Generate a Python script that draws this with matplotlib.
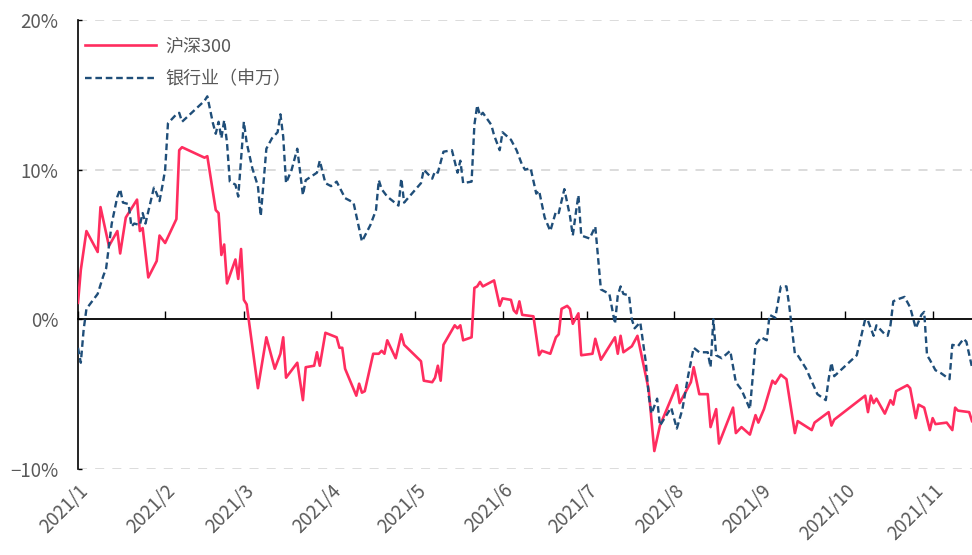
import matplotlib
matplotlib.use("Agg")
import matplotlib.pyplot as plt
import matplotlib.dates as mdates
import pandas as pd

plt.rcParams['font.family'] = ['Noto Sans CJK SC', 'DejaVu Sans']
plt.rcParams['axes.unicode_minus'] = True

# 沪深300 cumulative return (%)
hs300_dates = [
    "01-04", "01-05", "01-07", "01-11", "01-12", "01-15", "01-18", "01-19", "01-21", "01-25",
    "01-26", "01-27", "01-29", "02-01", "02-02", "02-04", "02-08", "02-09", "02-10", "02-18",
    "02-19", "02-22", "02-23", "02-24", "02-25", "02-26", "03-01", "03-02", "03-03", "03-04",
    "03-05", "03-09", "03-12", "03-15", "03-17", "03-18", "03-19", "03-23", "03-25", "03-26",
    "03-29", "03-30", "03-31", "04-02", "04-06", "04-07", "04-08", "04-09", "04-13", "04-14",
    "04-15", "04-16", "04-19", "04-21", "04-22", "04-23", "04-24", "04-27", "04-29", "04-30",
    "05-06", "05-07", "05-10", "05-11", "05-12", "05-13", "05-14", "05-18", "05-19", "05-20",
    "05-21", "05-24", "05-25", "05-26", "05-27", "05-28", "06-01", "06-03", "06-04", "06-07",
    "06-08", "06-09", "06-10", "06-11", "06-15", "06-17", "06-18", "06-21", "06-23", "06-24",
    "06-25", "06-27", "06-28", "06-29", "07-01", "07-02", "07-06", "07-07", "07-09", "07-14",
    "07-15", "07-16", "07-17", "07-20", "07-22", "07-26", "07-28", "07-30", "08-03", "08-05",
    "08-06", "08-10", "08-11", "08-13", "08-16", "08-17", "08-19", "08-20", "08-25", "08-26",
    "08-28", "08-31", "09-02", "09-03", "09-05", "09-08", "09-09", "09-11", "09-13", "09-16",
    "09-17", "09-22", "09-23", "09-28", "09-29", "09-30", "10-11", "10-12", "10-13", "10-14",
    "10-15", "10-18", "10-20", "10-21", "10-22", "10-26", "10-27", "10-29", "10-30", "11-01",
    "11-03", "11-04", "11-05", "11-09", "11-11", "11-12", "11-13", "11-17", "11-18",
]
hs300_values = [
    1.1, 3.3, 5.9, 4.5, 7.5, 4.9, 5.9, 4.4, 6.8, 8.0,
    5.9, 6.1, 2.8, 3.9, 5.6, 5.1, 6.7, 11.3, 11.5, 10.8,
    10.9, 7.3, 7.1, 4.3, 5.0, 2.4, 4.0, 2.7, 4.7, 1.3,
    1.0, -4.6, -1.2, -3.3, -2.3, -1.2, -3.9, -2.9, -5.4, -3.2,
    -3.1, -2.2, -3.1, -0.9, -1.2, -1.9, -1.9, -3.3, -5.1, -4.3,
    -4.9, -4.8, -2.3, -2.3, -2.1, -2.3, -1.4, -2.6, -1.0, -1.7,
    -2.8, -4.1, -4.2, -3.9, -3.1, -4.1, -1.7, -0.4, -0.6, -0.4,
    -1.4, -1.2, 2.1, 2.2, 2.5, 2.2, 2.6, 0.9, 1.4, 1.3,
    0.6, 0.4, 1.2, 0.3, 0.2, -2.4, -2.1, -2.3, -1.2, -1.0,
    0.7, 0.9, 0.7, -0.3, 0.4, -2.4, -2.3, -1.3, -2.7, -1.2,
    -2.3, -1.1, -2.2, -1.8, -1.1, -4.7, -8.8, -7.1, -5.3, -4.4,
    -5.6, -4.2, -3.2, -5.0, -5.0, -7.2, -6.0, -8.3, -5.9, -7.6,
    -7.2, -7.7, -6.4, -6.9, -6.0, -4.1, -4.3, -3.7, -4.0, -7.6,
    -6.8, -7.4, -6.9, -6.2, -7.1, -6.7, -5.1, -6.2, -5.1, -5.6,
    -5.3, -6.3, -5.4, -5.7, -4.8, -4.4, -4.6, -6.6, -5.7, -5.9,
    -7.4, -6.6, -7.0, -6.9, -7.4, -5.9, -6.1, -6.2, -6.8,
]

# 银行业（申万） cumulative return (%)
bank_dates = [
    "01-04", "01-05", "01-06", "01-07", "01-11", "01-13", "01-14", "01-16", "01-18", "01-19",
    "01-20", "01-22", "01-23", "01-24", "01-26", "01-27", "01-28", "01-31", "02-01", "02-02",
    "02-03", "02-04", "02-05", "02-08", "02-09", "02-10", "02-18", "02-19", "02-21", "02-22",
    "02-23", "02-24", "02-25", "02-26", "02-27", "03-01", "03-02", "03-04", "03-05", "03-07",
    "03-09", "03-10", "03-12", "03-14", "03-16", "03-17", "03-18", "03-19", "03-21", "03-23",
    "03-25", "03-26", "03-30", "03-31", "04-02", "04-04", "04-06", "04-09", "04-12", "04-15",
    "04-18", "04-20", "04-21", "04-22", "04-24", "04-28", "04-29", "04-30", "05-06", "05-07",
    "05-10", "05-11", "05-12", "05-14", "05-17", "05-19", "05-20", "05-21", "05-24", "05-25",
    "05-26", "05-27", "05-28", "05-31", "06-01", "06-03", "06-04", "06-07", "06-09", "06-11",
    "06-12", "06-14", "06-16", "06-17", "06-19", "06-21", "06-23", "06-24", "06-26", "06-28",
    "06-29", "06-30", "07-01", "07-02", "07-05", "07-07", "07-09", "07-12", "07-14", "07-15",
    "07-16", "07-17", "07-19", "07-20", "07-21", "07-23", "07-25", "07-26", "07-27", "07-29",
    "07-30", "08-03", "08-05", "08-07", "08-09", "08-11", "08-13", "08-16", "08-17", "08-18",
    "08-19", "08-21", "08-24", "08-26", "08-28", "08-31", "09-02", "09-04", "09-06", "09-07",
    "09-09", "09-11", "09-13", "09-14", "09-16", "09-17", "09-20", "09-24", "09-27", "09-28",
    "09-29", "09-30", "10-08", "10-11", "10-12", "10-14", "10-15", "10-18", "10-19", "10-20",
    "10-21", "10-22", "10-25", "10-27", "10-29", "10-31", "11-01", "11-02", "11-03", "11-05",
    "11-07", "11-10", "11-11", "11-13", "11-15", "11-16", "11-18",
]
bank_values = [
    -1.9, -2.9, -0.7, 0.7, 1.7, 2.9, 3.4, 6.4, 8.2, 8.7,
    7.8, 7.7, 6.2, 6.4, 6.3, 7.1, 6.4, 8.8, 8.4, 7.9,
    8.9, 10.0, 13.1, 13.7, 13.8, 13.2, 14.6, 14.9, 13.1, 12.4,
    13.2, 12.1, 13.3, 11.8, 9.2, 9.0, 8.2, 13.2, 11.8, 10.1,
    8.9, 6.9, 11.4, 12.1, 12.5, 13.7, 12.2, 9.1, 10.0, 11.4,
    8.3, 9.3, 9.8, 10.6, 9.1, 8.9, 9.2, 8.1, 7.8, 5.2,
    6.3, 7.3, 9.3, 8.7, 8.2, 7.6, 9.4, 7.8, 9.1, 10.0,
    9.4, 9.9, 9.8, 11.2, 11.3, 9.8, 10.6, 9.1, 9.2, 13.0,
    14.3, 13.6, 13.8, 13.0, 12.3, 11.3, 12.5, 12.0, 11.3, 10.3,
    10.0, 10.1, 8.4, 8.6, 6.8, 5.9, 7.2, 7.1, 8.7, 6.9,
    5.6, 7.0, 8.3, 5.6, 5.4, 6.2, 2.0, 1.7, -0.3, 1.6,
    2.2, 1.7, 1.6, 0.0, -0.6, -0.2, -2.9, -5.1, -6.3, -5.3,
    -7.1, -5.9, -7.3, -6.0, -3.8, -1.9, -2.2, -2.2, -3.2, 0.0,
    -2.4, -2.6, -2.1, -4.2, -4.7, -6.0, -1.7, -1.2, -1.4, 0.3,
    0.1, 2.2, 2.2, 0.9, -2.3, -2.4, -3.3, -5.0, -5.4, -4.0,
    -2.9, -3.8, -2.4, 0.0, -0.1, -1.1, -0.4, -1.0, -1.1, -0.4,
    1.2, 1.3, 1.5, 0.8, -0.6, 0.3, 0.5, -2.4, -2.7, -3.4,
    -3.6, -4.0, -1.7, -1.8, -1.3, -1.5, -3.2,
]

tick_dates = ["01-04", "02-04", "03-04", "04-04", "05-04", "06-04",
              "07-04", "08-04", "09-04", "10-04", "11-04"]
tick_labels = ["2021/1", "2021/2", "2021/3", "2021/4", "2021/5", "2021/6",
               "2021/7", "2021/8", "2021/9", "2021/10", "2021/11"]
y_ticks = [-10, 0, 10, 20]
grid_levels = [-10, 10, 20]


def to_dates(md):
    return pd.to_datetime(["2021-" + s for s in md])


hs_x = to_dates(hs300_dates)
bank_x = to_dates(bank_dates)
tick_x = to_dates(tick_dates)

fig = plt.figure(figsize=(9.72, 5.55), dpi=100)
ax = fig.add_axes([78 / 972, 86 / 555, 894 / 972, 449 / 555])

# dashed grey guides (not at zero, that one is the solid axis line)
for lvl in grid_levels:
    ax.axhline(lvl, color="#D9D9D9", lw=1.3, ls=(0, (5, 4.5)), zorder=1)

ax.plot(hs_x, hs300_values, color="#FF2D5F", lw=1.9, label="沪深300", zorder=3)
ax.plot(bank_x, bank_values, color="#1F4E79", lw=1.7, ls=(0, (2.8, 1.6)),
        label="银行业（申万）", zorder=3)

ax.set_ylim(-10, 20)
ax.set_xlim(hs_x[0], hs_x[-1])
ax.set_yticks(y_ticks)
ax.set_yticklabels([f"{v}%".replace("-", "\u2212") for v in y_ticks])
ax.set_xticks(tick_x)
ax.set_xticklabels(tick_labels, rotation=45, ha="right", rotation_mode="anchor")

ax.tick_params(axis="x", length=0, pad=8, labelsize=13.5, labelcolor="#595959")
ax.tick_params(axis="y", direction="in", length=3, width=1, color="black",
               pad=14, labelsize=13.5, labelcolor="#595959")

for side in ["top", "right", "bottom"]:
    ax.spines[side].set_visible(False)
ax.spines["left"].set_color("black")
ax.spines["left"].set_linewidth(1.2)

# zero line carries the month ticks
zero_axis = ax.secondary_xaxis(1 / 3)
zero_axis.set_zorder(2)
zero_axis.spines["bottom"].set_color("black")
zero_axis.spines["bottom"].set_linewidth(1.3)
zero_axis.set_xticks(mdates.date2num(tick_x))
zero_axis.tick_params(axis="x", direction="in", length=5.5, width=1, color="black",
                      labelbottom=False, labeltop=False)

leg = ax.legend(loc="upper left", bbox_to_anchor=(-0.006, 0.99), frameon=False,
                fontsize=13, handlelength=3.9, handletextpad=0.55, labelspacing=0.85,
                borderaxespad=0.3)
for t in leg.get_texts():
    t.set_color("#595959")

fig.savefig("out.png", dpi=100)
